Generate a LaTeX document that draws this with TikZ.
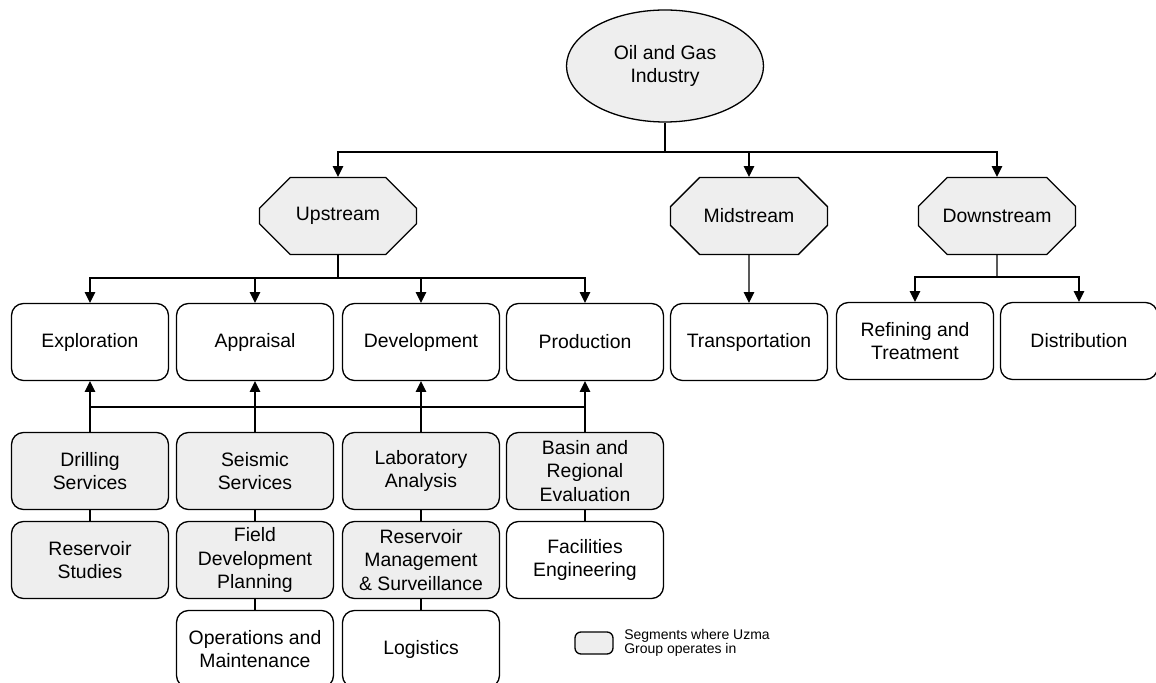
\documentclass[tikz,border=0pt]{standalone}
\usepackage{fontspec}
\setmainfont{Liberation Sans}
\usepackage{tikz}
\usetikzlibrary{arrows.meta,positioning,shapes.geometric,shapes.misc}
\definecolor{seg}{RGB}{238,238,238}

\begin{document}
\begin{tikzpicture}[x=0.5pt, y=-0.5pt, line width=0.65pt,
  every node/.style={font=\fontsize{9.7}{11.75}\selectfont, align=center, inner sep=0pt},
  phase/.style={draw, rounded corners=6pt, minimum width=78.5pt, minimum height=38.5pt},
  uzma/.style={phase, fill=seg},
  sector/.style={draw, fill=seg, chamfered rectangle, chamfered rectangle xsep=11pt,
    chamfered rectangle ysep=11pt, minimum width=78.5pt, minimum height=38.5pt},
  arr/.style={-{Triangle[length=5.4pt,width=5.2pt]}}]
\useasboundingbox (0,0) rectangle (1156,683);
\clip (0,0) rectangle (1156,683);
% ---- industry and sectors
\node[draw, ellipse, fill=seg, minimum width=98.5pt, minimum height=56pt] (ind) at (665,66)
  {Oil and Gas\\Industry};
\node[sector] (up)   at (338,216) {Upstream};
\node[sector] (mid)  at (749,216) {Midstream};
\node[sector] (down) at (997,216) {Downstream};
% ---- phases
\node[phase] (expl)  at (90,342)   {Exploration};
\node[phase] (apr)   at (255,342)  {Appraisal};
\node[phase] (devt)  at (421,342)  {Development};
\node[phase] (prod)  at (585,342)  {Production};
\node[phase] (trans) at (749,342)  {Transportation};
\node[phase] (refin) at (915,341)  {Refining and\\Treatment};
\node[phase] (dist)  at (1079,341) {Distribution};
% ---- services
\node[uzma]  (drill) at (90,471)  {Drilling\\Services};
\node[uzma]  (seis)  at (255,471) {Seismic\\Services};
\node[uzma]  (lab)   at (421,471) {Laboratory\\Analysis};
\node[uzma]  (basin) at (585,471) {Basin and\\Regional\\Evaluation};
\node[uzma]  (resv)  at (90,560)  {Reservoir\\Studies};
\node[uzma]  (field) at (255,560) {Field\\Development\\Planning};
\node[uzma]  (rman)  at (421,560) {Reservoir\\Management\\\& Surveillance};
\node[phase] (facil) at (585,560) {Facilities\\Engineering};
\node[phase] (ops)   at (255,649) {Operations and\\Maintenance};
\node[phase] (logi)  at (421,649) {Logistics};
% ---- key
\node[draw, fill=seg, rounded corners=3pt, minimum width=19pt, minimum height=11pt] (key) at (594,643) {};
\node[right=5pt of key, font=\fontsize{7}{6.8}\selectfont, align=left] (keytxt)
  {Segments where Uzma\\Group operates in};
% ---- connectors
\coordinate (topbus) at (665,152);
\draw (ind) -- (topbus);
\foreach \n in {up,mid,down} \draw[arr] (topbus) -| (\n);
\coordinate (upbus) at (338,278);
\draw (up) -- (upbus);
\foreach \n in {expl,apr,devt,prod} \draw[arr] (upbus) -| (\n);
\coordinate (colbus) at (338,407);
\draw (expl |- colbus) -- (prod |- colbus);
\foreach \a/\b in {drill/expl,seis/apr,lab/devt,basin/prod} \draw[arr] (\a) -- (\b);
\foreach \a/\b in {drill/resv,seis/field,lab/rman,basin/facil,field/ops,rman/logi} \draw (\a) -- (\b);
\draw[arr] (mid) -- (trans);
\coordinate (downbus) at (997,277);
\draw (down) -- (downbus);
\foreach \n in {refin,dist} \draw[arr] (downbus) -| (\n);
\end{tikzpicture}
\end{document}
